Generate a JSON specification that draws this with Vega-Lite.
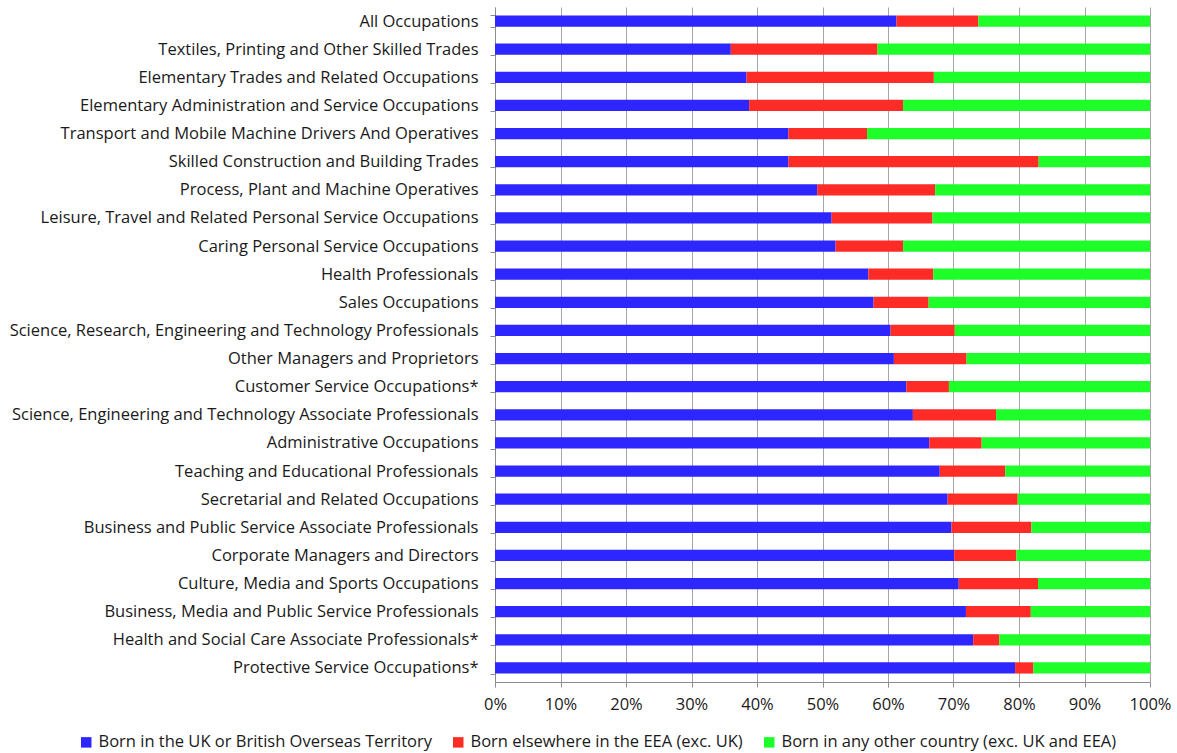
{
  "$schema": "https://vega.github.io/schema/vega-lite/v6.json",
  "autosize": {"type": "none"},
  "width": 655,
  "height": 675,
  "padding": {"left": 495, "top": 7, "right": 27, "bottom": 71},
  "background": "white",
  "config": {
    "font": "Open Sans",
    "view": {"stroke": null},
    "axis": {"labelFont": "Open Sans", "labelFontSize": 16.5, "labelColor": "#1a1a1a", "domainColor": "#8c8c8c", "tickColor": "#8c8c8c", "gridColor": "#a6a6a6", "tickSize": 5}
  },
  "data": {"values": [
    {"occupation": "All Occupations", "group": "Born in the UK or British Overseas Territory", "share": 61.3},
    {"occupation": "All Occupations", "group": "Born elsewhere in the EEA (exc. UK)", "share": 12.5},
    {"occupation": "All Occupations", "group": "Born in any other country (exc. UK and EEA)", "share": 26.2},
    {"occupation": "Textiles, Printing and Other Skilled Trades", "group": "Born in the UK or British Overseas Territory", "share": 36.0},
    {"occupation": "Textiles, Printing and Other Skilled Trades", "group": "Born elsewhere in the EEA (exc. UK)", "share": 22.4},
    {"occupation": "Textiles, Printing and Other Skilled Trades", "group": "Born in any other country (exc. UK and EEA)", "share": 41.6},
    {"occupation": "Elementary Trades and Related Occupations", "group": "Born in the UK or British Overseas Territory", "share": 38.4},
    {"occupation": "Elementary Trades and Related Occupations", "group": "Born elsewhere in the EEA (exc. UK)", "share": 28.6},
    {"occupation": "Elementary Trades and Related Occupations", "group": "Born in any other country (exc. UK and EEA)", "share": 33.0},
    {"occupation": "Elementary Administration and Service Occupations", "group": "Born in the UK or British Overseas Territory", "share": 38.8},
    {"occupation": "Elementary Administration and Service Occupations", "group": "Born elsewhere in the EEA (exc. UK)", "share": 23.5},
    {"occupation": "Elementary Administration and Service Occupations", "group": "Born in any other country (exc. UK and EEA)", "share": 37.7},
    {"occupation": "Transport and Mobile Machine Drivers And Operatives", "group": "Born in the UK or British Overseas Territory", "share": 44.8},
    {"occupation": "Transport and Mobile Machine Drivers And Operatives", "group": "Born elsewhere in the EEA (exc. UK)", "share": 12.0},
    {"occupation": "Transport and Mobile Machine Drivers And Operatives", "group": "Born in any other country (exc. UK and EEA)", "share": 43.2},
    {"occupation": "Skilled Construction and Building Trades", "group": "Born in the UK or British Overseas Territory", "share": 44.8},
    {"occupation": "Skilled Construction and Building Trades", "group": "Born elsewhere in the EEA (exc. UK)", "share": 38.2},
    {"occupation": "Skilled Construction and Building Trades", "group": "Born in any other country (exc. UK and EEA)", "share": 17.0},
    {"occupation": "Process, Plant and Machine Operatives", "group": "Born in the UK or British Overseas Territory", "share": 49.2},
    {"occupation": "Process, Plant and Machine Operatives", "group": "Born elsewhere in the EEA (exc. UK)", "share": 18.0},
    {"occupation": "Process, Plant and Machine Operatives", "group": "Born in any other country (exc. UK and EEA)", "share": 32.8},
    {"occupation": "Leisure, Travel and Related Personal Service Occupations", "group": "Born in the UK or British Overseas Territory", "share": 51.4},
    {"occupation": "Leisure, Travel and Related Personal Service Occupations", "group": "Born elsewhere in the EEA (exc. UK)", "share": 15.4},
    {"occupation": "Leisure, Travel and Related Personal Service Occupations", "group": "Born in any other country (exc. UK and EEA)", "share": 33.2},
    {"occupation": "Caring Personal Service Occupations", "group": "Born in the UK or British Overseas Territory", "share": 52.0},
    {"occupation": "Caring Personal Service Occupations", "group": "Born elsewhere in the EEA (exc. UK)", "share": 10.3},
    {"occupation": "Caring Personal Service Occupations", "group": "Born in any other country (exc. UK and EEA)", "share": 37.7},
    {"occupation": "Health Professionals", "group": "Born in the UK or British Overseas Territory", "share": 57.0},
    {"occupation": "Health Professionals", "group": "Born elsewhere in the EEA (exc. UK)", "share": 9.9},
    {"occupation": "Health Professionals", "group": "Born in any other country (exc. UK and EEA)", "share": 33.1},
    {"occupation": "Sales Occupations", "group": "Born in the UK or British Overseas Territory", "share": 57.8},
    {"occupation": "Sales Occupations", "group": "Born elsewhere in the EEA (exc. UK)", "share": 8.4},
    {"occupation": "Sales Occupations", "group": "Born in any other country (exc. UK and EEA)", "share": 33.8},
    {"occupation": "Science, Research, Engineering and Technology Professionals", "group": "Born in the UK or British Overseas Territory", "share": 60.4},
    {"occupation": "Science, Research, Engineering and Technology Professionals", "group": "Born elsewhere in the EEA (exc. UK)", "share": 9.8},
    {"occupation": "Science, Research, Engineering and Technology Professionals", "group": "Born in any other country (exc. UK and EEA)", "share": 29.8},
    {"occupation": "Other Managers and Proprietors", "group": "Born in the UK or British Overseas Territory", "share": 60.9},
    {"occupation": "Other Managers and Proprietors", "group": "Born elsewhere in the EEA (exc. UK)", "share": 11.1},
    {"occupation": "Other Managers and Proprietors", "group": "Born in any other country (exc. UK and EEA)", "share": 28.0},
    {"occupation": "Customer Service Occupations*", "group": "Born in the UK or British Overseas Territory", "share": 62.8},
    {"occupation": "Customer Service Occupations*", "group": "Born elsewhere in the EEA (exc. UK)", "share": 6.5},
    {"occupation": "Customer Service Occupations*", "group": "Born in any other country (exc. UK and EEA)", "share": 30.7},
    {"occupation": "Science, Engineering and Technology Associate Professionals", "group": "Born in the UK or British Overseas Territory", "share": 63.8},
    {"occupation": "Science, Engineering and Technology Associate Professionals", "group": "Born elsewhere in the EEA (exc. UK)", "share": 12.7},
    {"occupation": "Science, Engineering and Technology Associate Professionals", "group": "Born in any other country (exc. UK and EEA)", "share": 23.5},
    {"occupation": "Administrative Occupations", "group": "Born in the UK or British Overseas Territory", "share": 66.3},
    {"occupation": "Administrative Occupations", "group": "Born elsewhere in the EEA (exc. UK)", "share": 8.0},
    {"occupation": "Administrative Occupations", "group": "Born in any other country (exc. UK and EEA)", "share": 25.7},
    {"occupation": "Teaching and Educational Professionals", "group": "Born in the UK or British Overseas Territory", "share": 67.9},
    {"occupation": "Teaching and Educational Professionals", "group": "Born elsewhere in the EEA (exc. UK)", "share": 10.0},
    {"occupation": "Teaching and Educational Professionals", "group": "Born in any other country (exc. UK and EEA)", "share": 22.1},
    {"occupation": "Secretarial and Related Occupations", "group": "Born in the UK or British Overseas Territory", "share": 69.1},
    {"occupation": "Secretarial and Related Occupations", "group": "Born elsewhere in the EEA (exc. UK)", "share": 10.7},
    {"occupation": "Secretarial and Related Occupations", "group": "Born in any other country (exc. UK and EEA)", "share": 20.2},
    {"occupation": "Business and Public Service Associate Professionals", "group": "Born in the UK or British Overseas Territory", "share": 69.7},
    {"occupation": "Business and Public Service Associate Professionals", "group": "Born elsewhere in the EEA (exc. UK)", "share": 12.2},
    {"occupation": "Business and Public Service Associate Professionals", "group": "Born in any other country (exc. UK and EEA)", "share": 18.1},
    {"occupation": "Corporate Managers and Directors", "group": "Born in the UK or British Overseas Territory", "share": 70.1},
    {"occupation": "Corporate Managers and Directors", "group": "Born elsewhere in the EEA (exc. UK)", "share": 9.5},
    {"occupation": "Corporate Managers and Directors", "group": "Born in any other country (exc. UK and EEA)", "share": 20.4},
    {"occupation": "Culture, Media and Sports Occupations", "group": "Born in the UK or British Overseas Territory", "share": 70.8},
    {"occupation": "Culture, Media and Sports Occupations", "group": "Born elsewhere in the EEA (exc. UK)", "share": 12.1},
    {"occupation": "Culture, Media and Sports Occupations", "group": "Born in any other country (exc. UK and EEA)", "share": 17.1},
    {"occupation": "Business, Media and Public Service Professionals", "group": "Born in the UK or British Overseas Territory", "share": 71.9},
    {"occupation": "Business, Media and Public Service Professionals", "group": "Born elsewhere in the EEA (exc. UK)", "share": 9.9},
    {"occupation": "Business, Media and Public Service Professionals", "group": "Born in any other country (exc. UK and EEA)", "share": 18.2},
    {"occupation": "Health and Social Care Associate Professionals*", "group": "Born in the UK or British Overseas Territory", "share": 73.0},
    {"occupation": "Health and Social Care Associate Professionals*", "group": "Born elsewhere in the EEA (exc. UK)", "share": 4.0},
    {"occupation": "Health and Social Care Associate Professionals*", "group": "Born in any other country (exc. UK and EEA)", "share": 23.0},
    {"occupation": "Protective Service Occupations*", "group": "Born in the UK or British Overseas Territory", "share": 79.4},
    {"occupation": "Protective Service Occupations*", "group": "Born elsewhere in the EEA (exc. UK)", "share": 2.8},
    {"occupation": "Protective Service Occupations*", "group": "Born in any other country (exc. UK and EEA)", "share": 17.8}
  ]},
  "transform": [
    {"calculate": "indexof(['Born in the UK or British Overseas Territory', 'Born elsewhere in the EEA (exc. UK)', 'Born in any other country (exc. UK and EEA)'], datum.group)", "as": "stackKey"}
  ],
  "mark": {"type": "bar"},
  "encoding": {
    "y": {
      "field": "occupation", "type": "nominal", "sort": null, "title": null,
      "scale": {"paddingInner": 0.6, "paddingOuter": 0.3},
      "axis": {"tickBand": "extent", "grid": false, "labelPadding": 12, "labelLimit": 600}
    },
    "x": {
      "field": "share", "type": "quantitative", "stack": "normalize", "title": null,
      "scale": {"domain": [0, 1], "nice": false},
      "axis": {"format": ".0%", "values": [0, 0.1, 0.2, 0.3, 0.4, 0.5, 0.6, 0.7, 0.8, 0.9, 1], "grid": true, "labelPadding": 9, "labelFlush": false, "labelOverlap": false}
    },
    "order": {"field": "stackKey", "type": "quantitative", "sort": "ascending"},
    "color": {
      "field": "group", "type": "nominal", "title": null,
      "sort": ["Born in the UK or British Overseas Territory", "Born elsewhere in the EEA (exc. UK)", "Born in any other country (exc. UK and EEA)"],
      "scale": {
        "domain": ["Born in the UK or British Overseas Territory", "Born elsewhere in the EEA (exc. UK)", "Born in any other country (exc. UK and EEA)"],
        "range": ["#2e26ff", "#ff2b26", "#1eff2a"]
      },
      "legend": {
        "orient": "none", "direction": "horizontal", "legendX": -417, "legendY": 727,
        "symbolType": "square", "symbolSize": 110, "symbolStrokeWidth": 0, "symbolOpacity": 1,
        "labelFont": "Open Sans", "labelFontSize": 16.5, "labelColor": "#1a1a1a", "labelOffset": 4,
        "columnPadding": 18, "labelLimit": 600
      }
    }
  }
}
